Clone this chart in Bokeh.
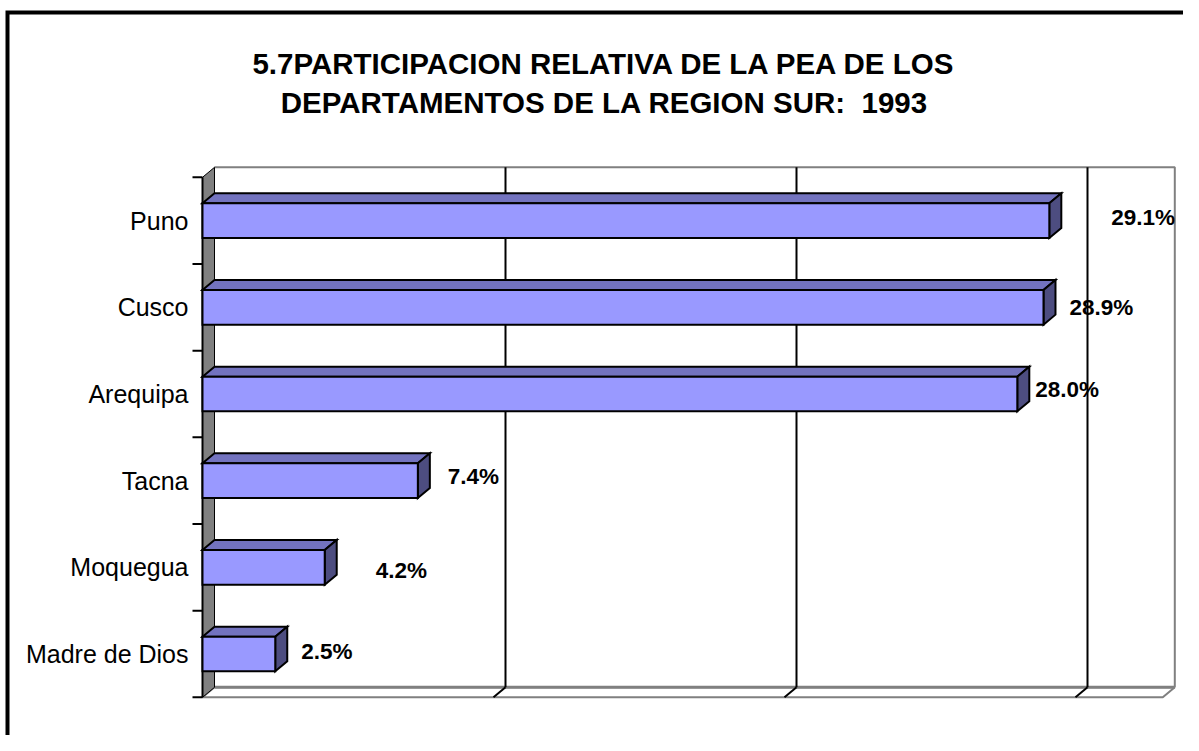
from bokeh.plotting import figure
from bokeh.models import Range1d, ColumnDataSource
from bokeh.core.properties import value
from bokeh.embed import file_html
from bokeh.resources import INLINE

# ---------------- data ----------------
categories = ["Madre de Dios", "Moquegua", "Tacna", "Arequipa", "Cusco", "Puno"]
shares = [2.5, 4.2, 7.4, 28.0, 28.9, 29.1]
grid_values = [10, 20, 30]
x_max = 33.0
title_lines = ["5.7PARTICIPACION RELATIVA DE LA PEA DE LOS",
               "DEPARTAMENTOS DE LA REGION SUR:\u00a0 1993"]

# label nudges (pixels), as placed in the original chart
label_dx = [26, 51, 30, 18, 26, 62]
label_dy = [-3, 3, -4, -4, 0, -3]

# ---------------- layout ----------------
W, H = 1183, 735
OFF = 0        # canvas origin in picture pixels
KX = 29.1      # px per percent
KY = 86.67     # px per category
X0 = 202.0     # picture x of 0 %
Y0 = 653.5     # picture y of first category
DX, DY = 12.0, 10.0   # 3-D depth in px
ddx, ddy = DX / KX, DY / KY
bar_h = 0.4

def px(X):
    return (X - X0) / KX

def py(Y):
    return (Y0 - Y) / KY

p = figure(width=W, height=H, output_backend="svg", toolbar_location=None,
           x_range=Range1d(px(OFF), px(OFF + W)), y_range=Range1d(py(OFF + H), py(OFF)),
           min_border=0, min_border_left=0, min_border_right=0,
           min_border_top=0, min_border_bottom=0)
p.axis.visible = False
p.grid.visible = False
p.outline_line_color = None
p.background_fill_color = "white"
p.border_fill_color = "white"

n = len(categories)
ys = list(range(n))
y_lo, y_hi = -0.5, n - 0.5
GREY = "#808080"

# outer frame of the chart area
p.line([px(1300), px(7), px(7)], [py(12), py(12), py(900)],
       line_color="black", line_width=4, line_join="miter")

# back wall outline
p.line([ddx, x_max + ddx, x_max + ddx], [y_hi + ddy, y_hi + ddy, y_lo + ddy],
       line_color=GREY, line_width=2)
# floor
p.patch([0, x_max, x_max + ddx, ddx], [y_lo, y_lo, y_lo + ddy, y_lo + ddy],
        fill_color="white", line_color=GREY, line_width=2)
p.segment(x0=[ddx], y0=[y_lo + ddy], x1=[x_max + ddx], y1=[y_lo + ddy],
          line_color=GREY, line_width=3)

# gridlines on back wall and floor
p.segment(x0=[g + ddx for g in grid_values], y0=[y_lo + ddy] * len(grid_values),
          x1=[g + ddx for g in grid_values], y1=[y_hi + ddy] * len(grid_values),
          line_color="black", line_width=2)
p.segment(x0=grid_values, y0=[y_lo] * len(grid_values),
          x1=[g + ddx for g in grid_values], y1=[y_lo + ddy] * len(grid_values),
          line_color="black", line_width=2)

# left wall
p.patch([0, 0, ddx, ddx], [y_lo, y_hi, y_hi + ddy, y_lo + ddy],
        fill_color=GREY, line_color="black", line_width=1)
p.segment(x0=[0], y0=[y_lo], x1=[0], y1=[y_hi], line_color="black", line_width=2)
ticks = [y_lo + k for k in range(n + 1)]
p.segment(x0=[px(192)] * len(ticks), y0=ticks, x1=[0] * len(ticks), y1=ticks,
          line_color="black", line_width=2)

# bars (3-D)
front_xs, front_ys, top_xs, top_ys, side_xs, side_ys = [], [], [], [], [], []
for y, v in zip(ys, shares):
    b, t = y - bar_h / 2, y + bar_h / 2
    front_xs.append([0, v, v, 0]); front_ys.append([b, b, t, t])
    top_xs.append([0, v, v + ddx, ddx]); top_ys.append([t, t, t + ddy, t + ddy])
    side_xs.append([v, v + ddx, v + ddx, v]); side_ys.append([b, b + ddy, t + ddy, t])
p.patches(top_xs, top_ys, fill_color="#7373BF", line_color="black", line_width=2,
          line_join="miter")
p.patches(side_xs, side_ys, fill_color="#4D4D80", line_color="black", line_width=2,
          line_join="miter")
p.patches(front_xs, front_ys, fill_color="#9999FF", line_color="black", line_width=2,
          line_join="miter")

# category labels
p.text(x=[px(188)] * n, y=ys, text=categories, text_align="right",
       text_baseline="middle", text_font=value("Liberation Sans"),
       text_font_size="25px", text_color="black")

# value labels
lab = ColumnDataSource(dict(x=shares, y=ys, t=[f"{v:.1f}%" for v in shares],
                            dx=label_dx, dy=label_dy))
p.text(x="x", y="y", text="t", x_offset="dx", y_offset="dy", source=lab,
       text_align="left", text_baseline="middle",
       text_font=value("Liberation Sans"), text_font_style="bold",
       text_font_size="22.5px", text_color="black")

# title
p.text(x=[px(604)] * 2, y=[py(63), py(101.5)], text=title_lines,
       text_align="center", text_baseline="middle",
       text_font=value("Liberation Sans"), text_font_style="bold",
       text_font_size="29.5px", text_color="black")

open("out.html", "w").write(file_html(p, INLINE))
